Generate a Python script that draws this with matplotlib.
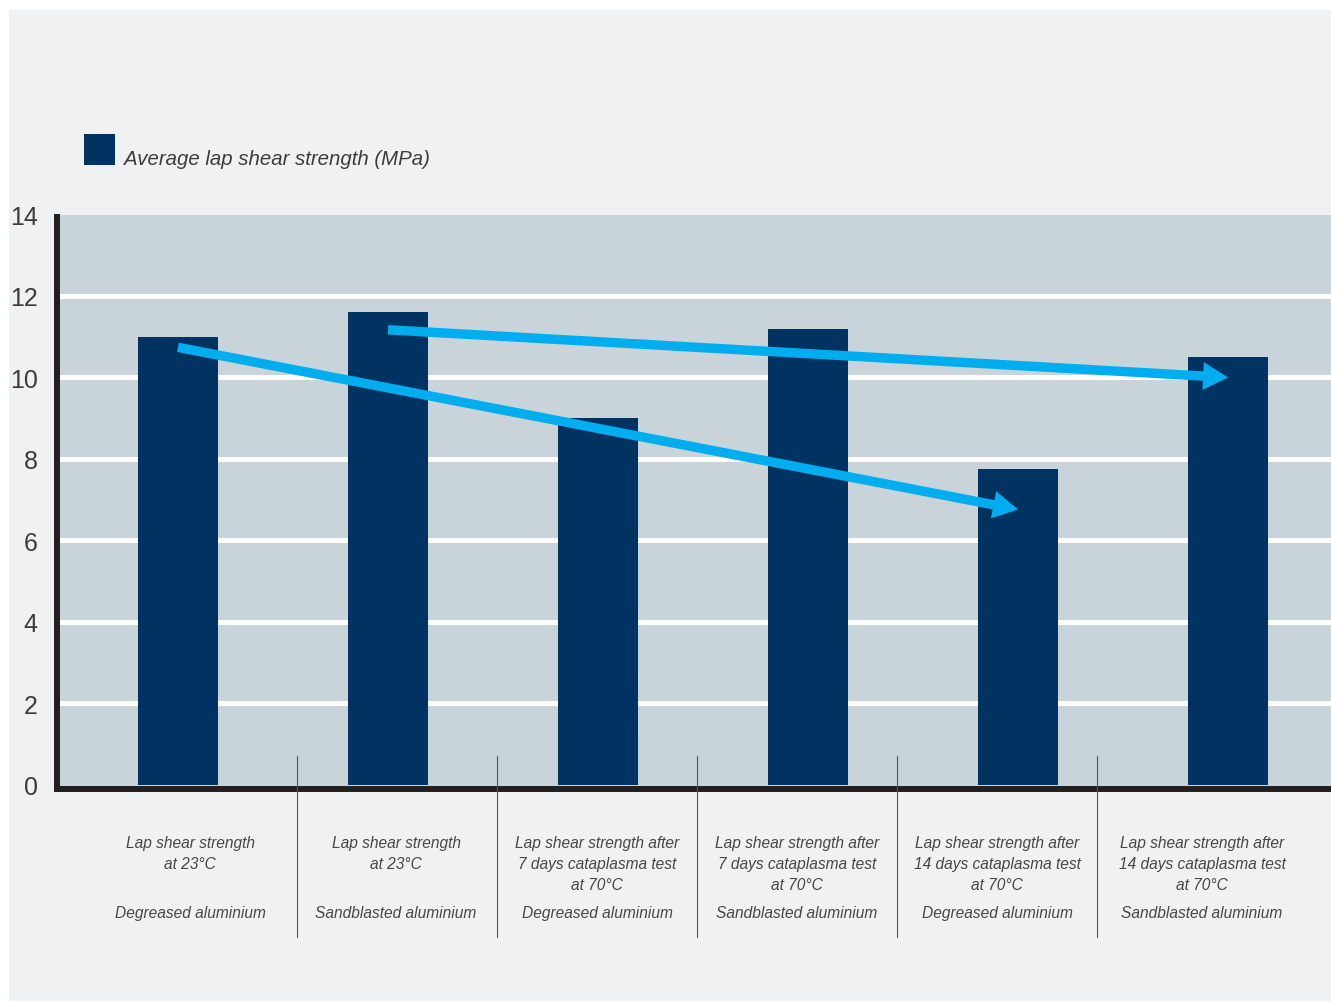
import matplotlib
matplotlib.use("Agg")
import matplotlib.pyplot as plt
from matplotlib.patches import Rectangle, FancyArrowPatch
from matplotlib.lines import Line2D
import numpy as np

plt.rcParams["font.family"] = ["Liberation Sans", "DejaVu Sans"]

# ─── DATA ────────────────────────────────────────────────────────────────────
conditions = [
    ["Lap shear strength", "at 23°C", ""],
    ["Lap shear strength", "at 23°C", ""],
    ["Lap shear strength after", "7 days cataplasma test", "at 70°C"],
    ["Lap shear strength after", "7 days cataplasma test", "at 70°C"],
    ["Lap shear strength after", "14 days cataplasma test", "at 70°C"],
    ["Lap shear strength after", "14 days cataplasma test", "at 70°C"],
]
substrates = [
    "Degreased aluminium", "Sandblasted aluminium",
    "Degreased aluminium", "Sandblasted aluminium",
    "Degreased aluminium", "Sandblasted aluminium",
]
strength = [11.0, 11.6, 9.0, 11.2, 7.75, 10.5]

# trend arrows: (start bar, start value) -> (end bar, end value)
trend_start = [(0, 10.74), (1, 11.17)]
trend_end   = [(4, 6.76), (5, 10.0)]

yticks = [0, 2, 4, 6, 8, 10, 12, 14]
legend_label = "Average lap shear strength (MPa)"

# ─── STYLE ───────────────────────────────────────────────────────────────────
PANEL = "#f0f1f3"
PLOT_BG = "#c8d4d9"
NAVY = "#003262"
CYAN = "#00aeef"
INK = "#231f20"
TEXT = "#3c3c3c"

W, H = 1331, 1003
fig = plt.figure(figsize=(W / 100, H / 100), dpi=100)
fig.patch.set_facecolor("white")

# light panel behind everything
fig.patches.append(Rectangle((9 / W, 1 / H), 1 - 9 / W, (H - 12) / H,
                             transform=fig.transFigure, facecolor=PANEL,
                             edgecolor="none", zorder=-10))

ax = fig.add_axes([57 / W, (H - 790) / H, (W - 57) / W, (790 - 215.5) / H])
ax.set_facecolor(PLOT_BG)

x = np.arange(len(strength))
for y in yticks[1:-1]:
    ax.axhline(y, color="white", lw=3.6, zorder=1)
ax.bar(x, strength, width=0.381, color=NAVY, zorder=2)

for (x0, y0), (x1, y1) in zip(trend_start, trend_end):
    arr = FancyArrowPatch((x0, y0), (x1, y1),
                          arrowstyle="simple,head_length=18,head_width=20,tail_width=6.8",
                          mutation_scale=1, color=CYAN, lw=0,
                          shrinkA=0, shrinkB=0, zorder=4)
    ax.add_patch(arr)

ax.set_xlim(-0.576, 5.49)
ax.set_ylim(-0.1, 14)
ax.set_yticks(yticks)
ax.set_xticks([])
ax.tick_params(axis="y", length=0, pad=14, labelsize=18, labelcolor=TEXT)
for side in ("top", "right"):
    ax.spines[side].set_visible(False)
ax.spines["left"].set_color(INK)
ax.spines["left"].set_linewidth(4.3)
ax.spines["left"].set_capstyle("butt")
ax.spines["bottom"].set_color(INK)
ax.spines["bottom"].set_linewidth(4.3)
ax.spines["bottom"].set_capstyle("projecting")

# legend
fig.patches.append(Rectangle((84 / W, (H - 166) / H), 31 / W, 31 / H,
                             transform=fig.transFigure, facecolor=NAVY,
                             edgecolor="none"))
fig.text(124 / W, (H - 165) / H, legend_label, fontsize=14.7, style="italic",
         color=TEXT, ha="left", va="baseline")

# category labels under the axis
label_x = [190, 396, 597, 797, 997, 1202]
row_y = [844, 865, 886]
for cx, lines, sub in zip(label_x, conditions, substrates):
    for ry, line in zip(row_y, lines):
        if line:
            fig.text(cx / W, (H - ry) / H, line, fontsize=11.2, style="italic",
                     color="#474747", ha="center", va="center")
    fig.text(cx / W, (H - 914) / H, sub, fontsize=11.2, style="italic",
             color="#474747", ha="center", va="center")

# thin separators between label columns
for sx in [297, 497, 697, 897, 1097]:
    fig.lines.append(Line2D([sx / W, sx / W], [(H - 757) / H, (H - 938) / H],
                            transform=fig.transFigure, color="#555555",
                            lw=0.8, zorder=5))

fig.savefig("out.png", dpi=100, facecolor=fig.get_facecolor())
